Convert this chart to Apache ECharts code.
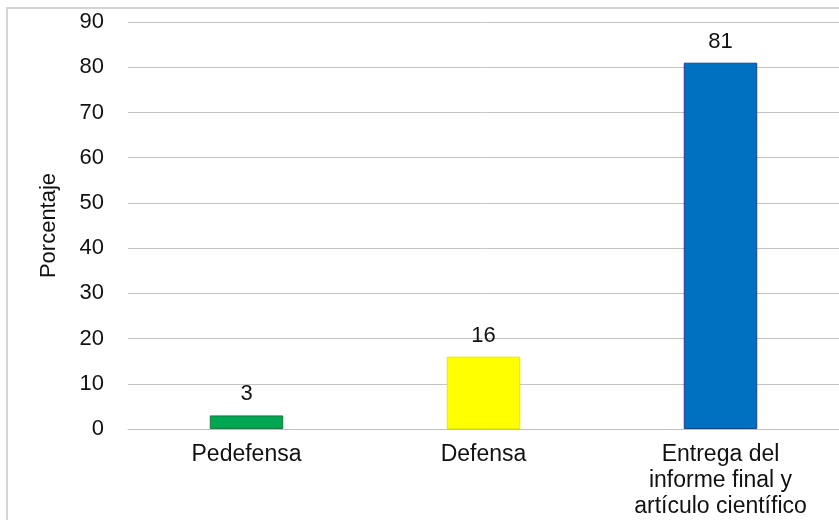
<!DOCTYPE html>
<html>
<head>
<meta charset="utf-8">
<script src="https://cdn.jsdelivr.net/npm/echarts@6/dist/echarts.min.js"></script>
<style>
html,body{margin:0;padding:0;background:#fff;}
#chart{width:839px;height:520px;}
</style>
</head>
<body>
<div id="chart"></div>
<script>
const categories = ['Pedefensa', 'Defensa', 'Entrega del\ninforme final y\nartículo científico'];
const values = [3, 16, 81];
const barColors = ['#00a651', '#ffff00', '#0070c0'];
const barBorders = ['#177a3c', '#e8e800', '#1b3f8f'];
const yTicks = { min: 0, max: 90, interval: 10 };
const yName = 'Porcentaje';

const chart = echarts.init(document.getElementById('chart'), null, { renderer: 'canvas' });
const font = 'Liberation Sans, Arial, sans-serif';
chart.setOption({
  animation: false,
  backgroundColor: '#ffffff',
  graphic: [{
    type: 'rect',
    shape: { x: 7, y: 8, width: 840, height: 520 },
    style: { fill: 'none', stroke: '#d4d4d4', lineWidth: 2 },
    silent: true
  }],
  grid: { left: 128, right: 0, top: 22, bottom: 89, containLabel: false },
  xAxis: {
    type: 'category',
    data: categories,
    axisLine: { show: true, lineStyle: { color: '#bfbfbf', width: 1 } },
    axisTick: { show: false },
    axisLabel: {
      color: '#111', fontFamily: font, fontSize: 23, lineHeight: 26, margin: 13, interval: 0
    }
  },
  yAxis: {
    type: 'value',
    min: yTicks.min, max: yTicks.max, interval: yTicks.interval,
    name: yName,
    nameLocation: 'middle',
    nameGap: 68,
    nameTextStyle: { color: '#111', fontFamily: font, fontSize: 22 },
    axisLine: { show: false },
    axisTick: { show: false },
    axisLabel: { color: '#111', fontFamily: font, fontSize: 22, margin: 24 },
    splitLine: { show: true, lineStyle: { color: '#c4c4c4', width: 1 } }
  },
  series: [{
    type: 'bar',
    barWidth: '31%',
    data: values.map((v, i) => ({
      value: v,
      itemStyle: { color: barColors[i], borderColor: barBorders[i], borderWidth: 1 }
    })),
    label: {
      show: true, position: 'top', distance: 10,
      color: '#111', fontFamily: font, fontSize: 22
    }
  }]
});
</script>
</body>
</html>
